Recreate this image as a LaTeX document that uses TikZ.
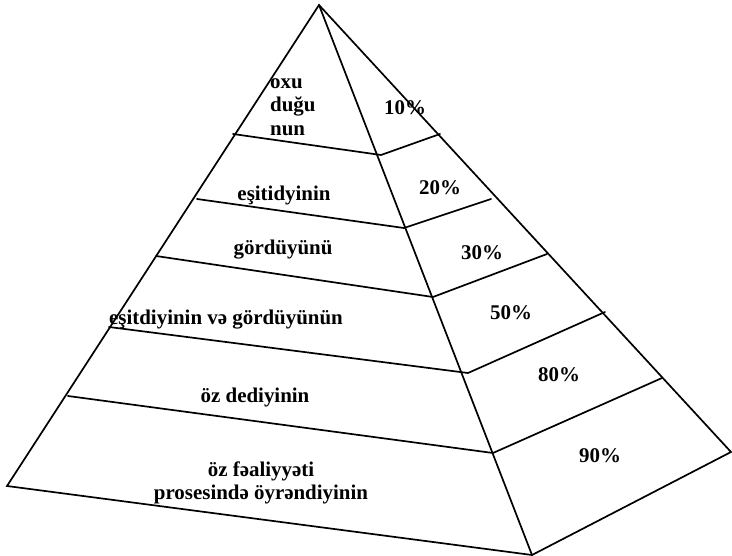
\documentclass[tikz,border=0pt]{standalone}
\usepackage{fontspec}
\setmainfont{Liberation Serif}
\begin{document}
\begin{tikzpicture}[x=1bp,y=-1bp,
  edge/.style={line width=1.7bp,line join=miter,line cap=round},
  lbl/.style={font=\fontsize{21}{23.5}\selectfont\bfseries,inner sep=0pt},
  pct/.style={lbl}]
\useasboundingbox (0,0) rectangle (732,556);
% corners
\coordinate (A) at (319,5);
\coordinate (L) at (7,486);
\coordinate (F) at (532,555);
\coordinate (R) at (731,452);
% outline
\draw[edge] (L) -- (A) -- (R) -- (F) -- cycle;
\draw[edge] (A) -- (F);
% band lines
\coordinate (b1l) at (233,134); \coordinate (b1m) at (381,155); \coordinate (b1r) at (440,134);
\coordinate (b2l) at (197,199); \coordinate (b2m) at (404,228); \coordinate (b2r) at (491,199);
\coordinate (b3l) at (156,256); \coordinate (b3m) at (433,297); \coordinate (b3r) at (547,254);
\coordinate (b4l) at (109,327); \coordinate (b4m) at (468,373); \coordinate (b4r) at (605,312);
\coordinate (b5l) at (68,396);  \coordinate (b5m) at (493,453); \coordinate (b5r) at (662,378);
\draw[edge] (b1l) -- (b1m) -- (b1r);
\draw[edge] (b2l) -- (b2m) -- (b2r);
\draw[edge] (b3l) -- (b3m) -- (b3r);
\draw[edge] (b4l) -- (b4m) -- (b4r);
\draw[edge] (b5l) -- (b5m) -- (b5r);
% left labels
\node[lbl,align=left,anchor=west] (t1) at (270,107) {oxu\\duğu\\nun};
\node[lbl] (t2) at (284,196) {eşitidyinin};
\node[lbl] (t3) at (283,250) {gördüyünü};
\node[lbl] (t4) at (226,320) {eşitdiyinin və gördüyünün};
\node[lbl] (t5) at (255,397) {öz dediyinin};
\node[lbl,align=center] (t6) at (261,483) {öz fəaliyyəti\\prosesində öyrəndiyinin};
% percentages
\node[pct] (p1) at (405,108) {10\%};
\node[pct] (p2) at (440,188) {20\%};
\node[pct] (p3) at (482,253) {30\%};
\node[pct] (p4) at (511,313) {50\%};
\node[pct] (p5) at (559,375) {80\%};
\node[pct] (p6) at (600,456) {90\%};
\end{tikzpicture}
\end{document}
